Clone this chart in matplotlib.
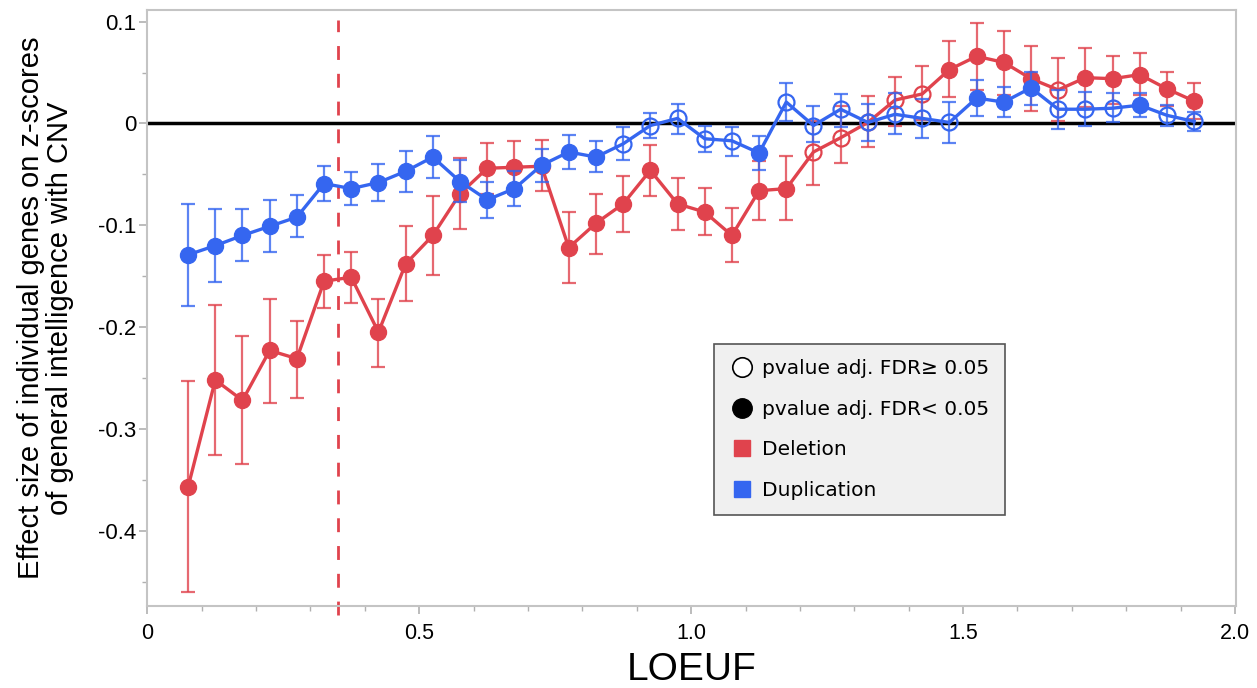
import numpy as np
import matplotlib as mpl
mpl.use('Agg')
import matplotlib.pyplot as plt
from matplotlib.lines import Line2D
from matplotlib.ticker import MultipleLocator, FuncFormatter

axis_font = 'Liberation Sans'

# LOEUF bin centres
loeuf = [0.075, 0.125, 0.175, 0.225, 0.275, 0.325, 0.375, 0.425, 0.475, 0.525,
         0.575, 0.625, 0.675, 0.725, 0.775, 0.825, 0.875, 0.925, 0.975, 1.025,
         1.075, 1.125, 1.175, 1.225, 1.275, 1.325, 1.375, 1.425, 1.475, 1.525,
         1.575, 1.625, 1.675, 1.725, 1.775, 1.825, 1.875, 1.925]

# deletion effect sizes and CI bounds
del_est = [-0.357, -0.252, -0.272, -0.223, -0.231, -0.155, -0.151, -0.205, -0.138, -0.110,
           -0.069, -0.044, -0.043, -0.042, -0.122, -0.098, -0.079, -0.046, -0.079, -0.087,
           -0.110, -0.066, -0.064, -0.028, -0.014, 0.001, 0.023, 0.029, 0.053, 0.066,
           0.060, 0.044, 0.033, 0.045, 0.044, 0.048, 0.034, 0.022]
del_hi = [-0.253, -0.178, -0.209, -0.172, -0.194, -0.129, -0.126, -0.172, -0.101, -0.071,
          -0.034, -0.019, -0.017, -0.016, -0.087, -0.069, -0.052, -0.021, -0.054, -0.063,
          -0.083, -0.037, -0.032, 0.002, 0.017, 0.027, 0.046, 0.056, 0.081, 0.099,
          0.091, 0.076, 0.064, 0.074, 0.066, 0.069, 0.051, 0.040]
del_lo = [-0.460, -0.326, -0.335, -0.275, -0.270, -0.181, -0.176, -0.239, -0.174, -0.149,
          -0.104, -0.069, -0.069, -0.066, -0.157, -0.128, -0.107, -0.071, -0.105, -0.110,
          -0.136, -0.095, -0.095, -0.060, -0.039, -0.023, -0.002, 0.003, 0.026, 0.033,
          0.028, 0.012, 0.002, 0.016, 0.019, 0.028, 0.017, 0.004]
del_sig = [1, 1, 1, 1, 1, 1, 1, 1, 1, 1, 1, 1, 1, 1, 1, 1, 1, 1, 1, 1,
           1, 1, 1, 0, 0, 0, 0, 0, 1, 1, 1, 1, 0, 1, 1, 1, 1, 1]

# duplication effect sizes and CI bounds
dup_est = [-0.129, -0.120, -0.110, -0.101, -0.092, -0.059, -0.064, -0.058, -0.047, -0.033,
           -0.057, -0.075, -0.064, -0.041, -0.028, -0.033, -0.020, -0.002, 0.005, -0.015,
           -0.017, -0.029, 0.021, -0.002, 0.014, 0.001, 0.009, 0.005, 0.001, 0.025,
           0.021, 0.035, 0.014, 0.014, 0.015, 0.018, 0.008, 0.002]
dup_hi = [-0.079, -0.084, -0.084, -0.075, -0.070, -0.042, -0.048, -0.040, -0.027, -0.012,
          -0.036, -0.057, -0.047, -0.025, -0.011, -0.017, -0.003, 0.010, 0.019, -0.002,
          -0.003, -0.012, 0.040, 0.017, 0.029, 0.019, 0.030, 0.024, 0.021, 0.043,
          0.036, 0.051, 0.033, 0.031, 0.030, 0.030, 0.018, 0.011]
dup_lo = [-0.179, -0.156, -0.135, -0.126, -0.112, -0.076, -0.080, -0.076, -0.067, -0.054,
          -0.077, -0.093, -0.081, -0.057, -0.045, -0.048, -0.036, -0.014, -0.010, -0.028,
          -0.032, -0.046, 0.002, -0.018, -0.003, -0.017, -0.010, -0.014, -0.019, 0.007,
          0.006, 0.018, -0.005, -0.002, 0.001, 0.006, -0.002, -0.007]
dup_sig = [1, 1, 1, 1, 1, 1, 1, 1, 1, 1, 1, 1, 1, 1, 1, 1, 0, 0, 0, 0,
           0, 1, 0, 0, 0, 0, 0, 0, 0, 1, 1, 1, 0, 0, 0, 1, 0, 0]

loeuf_cut = 0.35

red = '#E0434D'
blue = '#3566F0'

fig = plt.figure(figsize=(12.57, 6.88), dpi=100)
ax = fig.add_axes([0.1172, 0.1192, 0.8661, 0.8663])

x = np.array(loeuf)

def draw_series(est, lo, hi, sig, color, z):
    est = np.array(est)
    lo = np.array(lo)
    hi = np.array(hi)
    sig = np.array(sig).astype(bool)
    yerr = [est - lo, hi - est]
    ax.errorbar(x, est, yerr=yerr, fmt='none', ecolor=color, elinewidth=1.6,
                capsize=5, capthick=1.6, alpha=0.8, zorder=z)
    ax.plot(x, est, '-', color=color, lw=2.4, zorder=z + 0.1)
    ax.plot(x[sig], est[sig], 'o', color=color, ms=11.5, mec=color, zorder=z + 0.2)
    ax.plot(x[~sig], est[~sig], 'o', mfc='none', mec=color, mew=1.6, ms=11.5,
            zorder=z + 0.2)

ax.axhline(0, color='black', lw=2.5, zorder=2)
ax.axvline(loeuf_cut, ymin=-0.015, ymax=0.983, color=red, lw=2,
           dashes=(5, 5), clip_on=False, zorder=2)

draw_series(del_est, del_lo, del_hi, del_sig, red, 3)
draw_series(dup_est, dup_lo, dup_hi, dup_sig, blue, 4)

ax.set_xlim(0, 2.002)
ax.set_ylim(-0.474, 0.1115)
ax.xaxis.set_major_locator(MultipleLocator(0.5))
ax.xaxis.set_minor_locator(MultipleLocator(0.1))
ax.yaxis.set_major_locator(MultipleLocator(0.1))
ax.yaxis.set_minor_locator(MultipleLocator(0.05))

def fmt_tick(v, pos):
    if abs(v) < 1e-9:
        return '0'
    return '%.1f' % v

ax.xaxis.set_major_formatter(FuncFormatter(fmt_tick))
ax.yaxis.set_major_formatter(FuncFormatter(fmt_tick))

for s in ax.spines.values():
    s.set_color('#c4c4c4')
    s.set_linewidth(1.5)
ax.tick_params(which='major', length=6, width=1.2, color='#b0b0b0')
ax.tick_params(which='minor', length=3.5, width=1, color='#b0b0b0')
ax.tick_params(axis='x', labelsize=15.5, pad=6)
ax.tick_params(axis='y', labelsize=16, pad=2)
for lab in ax.get_xticklabels() + ax.get_yticklabels():
    lab.set_fontfamily(axis_font)

ax.set_xlabel('LOEUF', fontsize=28, family=axis_font, labelpad=6)
ax.set_ylabel('Effect size of individual genes on z-scores\nof general intelligence with CNV',
              fontsize=21, family=axis_font, labelpad=17, linespacing=1.05)

handles = [
    Line2D([], [], marker='o', ls='none', mfc='white', mec='black', mew=1.2, ms=14),
    Line2D([], [], marker='o', ls='none', mfc='black', mec='black', ms=14),
    Line2D([], [], marker='s', ls='none', mfc=red, mec=red, ms=12),
    Line2D([], [], marker='s', ls='none', mfc=blue, mec=blue, ms=12),
]
labels = ['pvalue adj. FDR\u2265 0.05', 'pvalue adj. FDR< 0.05', 'Deletion', 'Duplication']
leg = ax.legend(handles, labels, loc='upper left', bbox_to_anchor=(0.5205, 0.44),
                frameon=True, fancybox=False, prop={'family': 'DejaVu Sans', 'size': 14.5},
                labelspacing=1.08, handletextpad=0.35, handlelength=1.3,
                borderpad=0.75, borderaxespad=0)
leg.get_frame().set_facecolor('#f0f0f0')
leg.get_frame().set_edgecolor('#555555')
leg.get_frame().set_linewidth(1.2)
leg.get_frame().set_alpha(1)
leg.set_zorder(10)

plt.savefig('out.png', dpi=100)
plt.close()
